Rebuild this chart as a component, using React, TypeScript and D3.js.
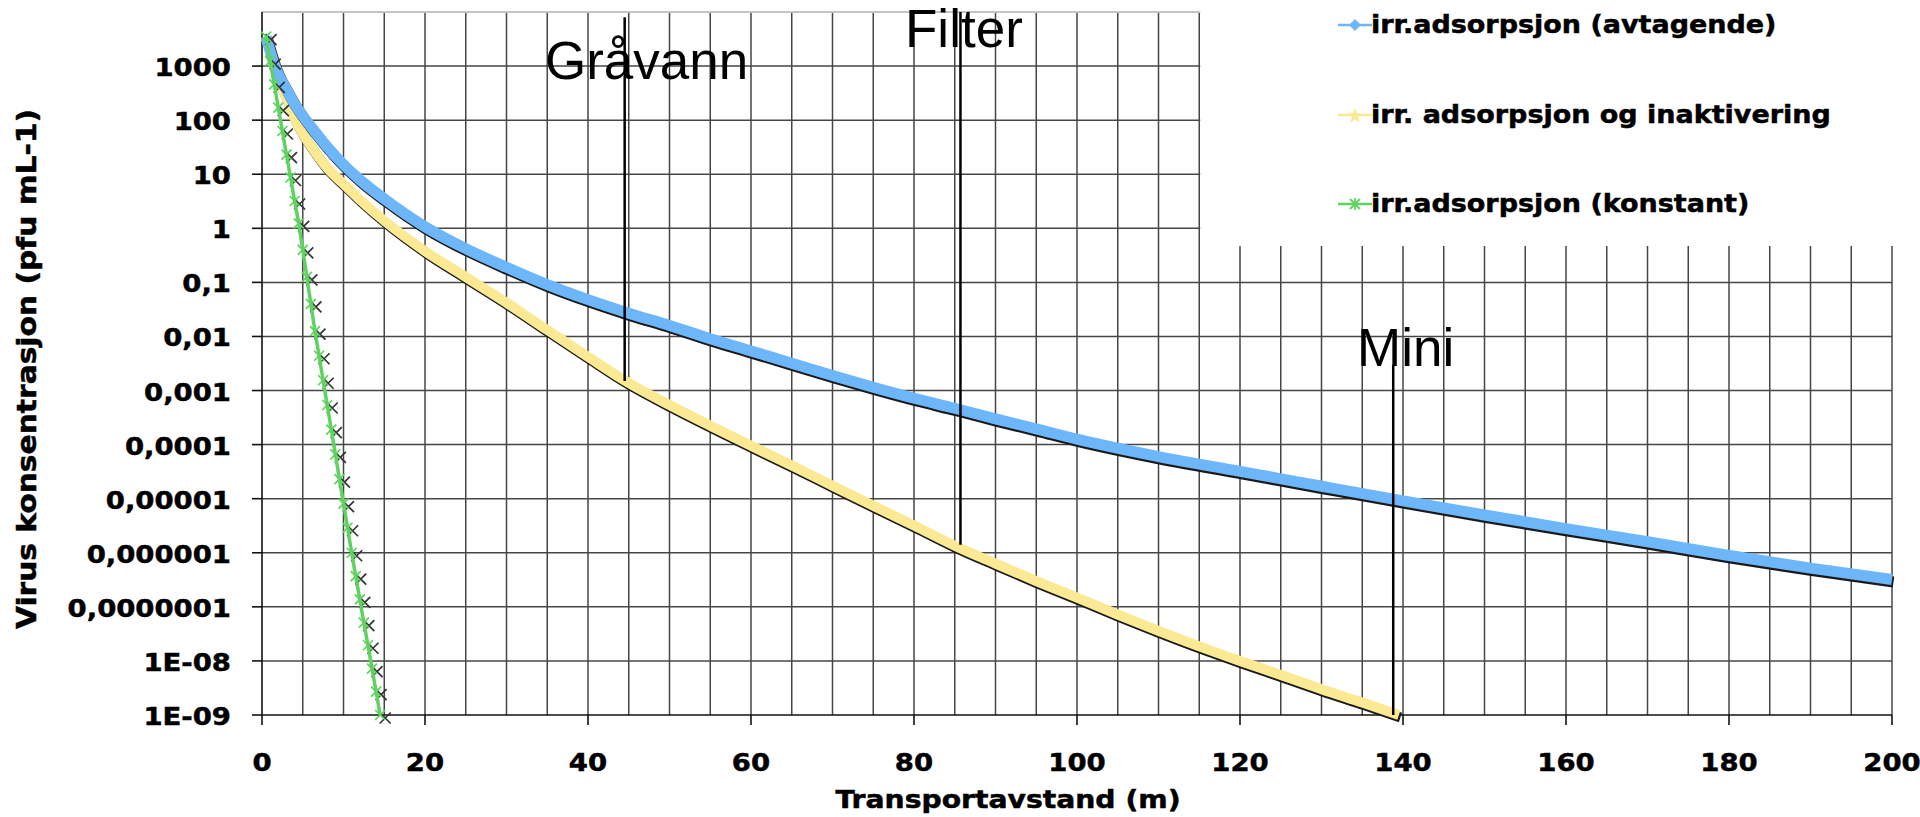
import React from "react";
import * as d3 from "d3";

const width = 1920,
  height = 817;

// irr.adsorpsjon (avtagende)
const distBlue = [0.5, 1, 1.5, 2, 3, 4, 5, 6, 8, 10, 12, 15, 20, 25, 30, 35, 40, 45, 50, 55, 60, 65, 70, 75, 80, 85, 90, 95, 100, 110, 120, 130, 140, 150, 160, 170, 180, 190, 200];
const concBlue = [3500, 1900, 1100, 710, 370, 200, 120, 76, 32, 15, 7.9, 3.5, 1.07, 0.42, 0.19, 0.091, 0.048, 0.027, 0.016, 0.0091, 0.0054, 0.0032, 0.0019, 0.00115, 0.00072, 0.00047, 0.0003, 0.000195, 0.000126, 6.0e-5, 3.2e-5, 1.7e-5, 9.1e-6, 5.0e-6, 2.8e-6, 1.6e-6, 8.9e-7, 5.2e-7, 3.2e-7];

// irr. adsorpsjon og inaktivering
const distYellow = [0.5, 1, 1.5, 2, 3, 4, 5, 6, 8, 10, 12, 15, 20, 25, 30, 35, 40, 45, 50, 55, 60, 65, 70, 75, 80, 85, 90, 95, 100, 105, 110, 115, 120, 125, 130, 135, 139.5];
const concYellow = [3400, 1700, 950, 600, 250, 107, 56, 33, 13, 6.6, 3.4, 1.38, 0.38, 0.126, 0.042, 0.0132, 0.0042, 0.00138, 0.00054, 0.000224, 9.5e-5, 4.1e-5, 1.74e-5, 7.4e-6, 3.2e-6, 1.35e-6, 6.3e-7, 3.0e-7, 1.48e-7, 7.2e-8, 3.6e-8, 1.86e-8, 1.0e-8, 5.5e-9, 3.0e-9, 1.7e-9, 1.0e-9];

// irr.adsorpsjon (konstant)
const distGreen = [0.5, 1, 1.5, 2, 2.5, 3, 3.5, 4, 4.5, 5, 5.5, 6, 6.5, 7, 7.5, 8, 8.5, 9, 9.5, 10, 10.5, 11, 11.5, 12, 12.5, 13, 13.5, 14, 14.5];
const concGreen = [3500, 1230, 460, 170, 63, 23, 8.7, 3.2, 1.23, 0.4, 0.126, 0.04, 0.0126, 0.0044, 0.00155, 0.00054, 0.00019, 6.6e-5, 2.3e-5, 8.1e-6, 2.9e-6, 1.0e-6, 3.7e-7, 1.38e-7, 5.1e-8, 1.95e-8, 7.2e-9, 2.7e-9, 1.0e-9];

const xTicks = [0, 20, 40, 60, 80, 100, 120, 140, 160, 180, 200];
const xGrid = [5, 10, 15, 20, 25, 30, 35, 40, 45, 50, 55, 60, 65, 70, 75, 80, 85, 90, 95, 100, 105, 110, 115, 120, 125, 130, 135, 140, 145, 150, 155, 160, 165, 170, 175, 180, 185, 190, 195, 200];
const yTicks = [1e3, 1e2, 1e1, 1, 1e-1, 1e-2, 1e-3, 1e-4, 1e-5, 1e-6, 1e-7, 1e-8, 1e-9];
const yTickLabels = ["1000", "100", "10", "1", "0,1", "0,01", "0,001", "0,0001", "0,00001", "0,000001", "0,0000001", "1E-08", "1E-09"];

const legendLabels = ["irr.adsorpsjon (avtagende)", "irr. adsorpsjon og inaktivering", "irr.adsorpsjon (konstant)"];

// markeringslinjer: avstand, fra/til konsentrasjon
const markNames = ["Gråvann", "Filter", "Mini"];
const markDist = [44.5, 85.7, 138.8];
const markTop = [8000, 1e4, 3e-3];
const markBottom = [1.5e-3, 1.4e-6, 1e-9];

const BOLD = "DejaVu Sans, Verdana, sans-serif";

function Bold({ x, y, anchor = "start", size = 25, sx = 1.1, rotate = 0, children }: any) {
  return (
    <text
      transform={`translate(${x},${y}) rotate(${rotate}) scale(${sx},1)`}
      textAnchor={anchor}
      fontFamily={BOLD}
      fontWeight="bold"
      fontSize={size}
      fill="#000"
      stroke="#000"
      strokeWidth={0.5}
    >
      {children}
    </text>
  );
}

export default function App() {
  const x = d3.scaleLinear().domain([0, 200]).range([262, 1892]);
  const y = d3.scaleLog().domain([1e-9, 1e4]).range([715, 12]);

  const path = (xs: number[], ys: number[]) =>
    d3
      .line<number>()
      .x((_, i) => x(xs[i]))
      .y(d => y(d))
      .curve(d3.curveMonotoneX)(ys) as string;

  const blueD = path(distBlue, concBlue);
  const yellowD = path(distYellow, concYellow);
  const greenD = path(distGreen, concGreen);

  const legendY = [33, 123, 212];
  const cross = (cx: number, cy: number, r: number) =>
    `M${cx - r},${cy - r}L${cx + r},${cy + r}M${cx - r},${cy + r}L${cx + r},${cy - r}`;

  return (
    <svg width={width} height={height} style={{ position: "absolute", left: 0, top: 0, background: "#fff" }}>
      <rect width={width} height={height} fill="#fff" />

      {/* rutenett */}
      <g stroke="#333" strokeWidth={1.5} opacity={0.9}>
        {xGrid.map(v => (
          <line key={"vx" + v} x1={x(v)} x2={x(v)} y1={y(1e4)} y2={y(1e-9)} />
        ))}
        {yTicks.slice(0, -1).map(v => (
          <line key={"hy" + v} x1={x(0)} x2={x(200)} y1={y(v)} y2={y(v)} />
        ))}
      </g>
      <line x1={x(0)} x2={x(200)} y1={y(1e4)} y2={y(1e4)} stroke="#c4c4c4" strokeWidth={2} />

      {/* akser */}
      <g stroke="#111" strokeWidth={1.6}>
        <line x1={x(0)} x2={x(0)} y1={y(1e4)} y2={y(1e-9)} />
        <line x1={x(0)} x2={x(200)} y1={y(1e-9)} y2={y(1e-9)} />
        {yTicks.map(v => (
          <line key={"ty" + v} x1={x(0) - 10} x2={x(0)} y1={y(v)} y2={y(v)} />
        ))}
        {xTicks.map(v => (
          <line key={"tx" + v} x1={x(v)} x2={x(v)} y1={y(1e-9)} y2={y(1e-9) + 10} />
        ))}
      </g>

      {/* serier */}
      <path d={yellowD} fill="none" stroke="#1a1a1a" strokeWidth={10} transform="translate(1.5,2.5)" />
      <path d={yellowD} fill="none" stroke="#fbe993" strokeWidth={10} />
      <path d={blueD} fill="none" stroke="#1a1a1a" strokeWidth={11} transform="translate(1.5,2.5)" />
      <path d={blueD} fill="none" stroke="#6db6fa" strokeWidth={11} />

      <g stroke="#333" strokeWidth={1.7} fill="none">
        {distGreen.map((d, i) => (
          <path key={"gs" + i} d={cross(x(d) + 5, y(concGreen[i]) + 3, 5.5)} />
        ))}
      </g>
      <path d={greenD} fill="none" stroke="#5fd35f" strokeWidth={3.5} />
      <g stroke="#5fd35f" strokeWidth={1.7} fill="none">
        {distGreen.map((d, i) => (
          <path key={"g" + i} d={cross(x(d), y(concGreen[i]), 5)} />
        ))}
      </g>

      {/* markeringslinjer */}
      <g stroke="#000" strokeWidth={2.5}>
        {markDist.map((d, i) => (
          <line key={"m" + i} x1={x(d)} x2={x(d)} y1={y(markTop[i])} y2={y(markBottom[i])} />
        ))}
      </g>

      {/* tegnforklaring */}
      <rect x={x(115) + 1} y={0} width={width - x(115)} height={246} fill="#fff" />
      {legendLabels.map((t, i) => (
        <Bold key={"lg" + i} x={1371} y={legendY[i]} size={25} sx={1.08}>
          {t}
        </Bold>
      ))}
      <g strokeWidth={2.5}>
        <line x1={1338} x2={1372} y1={legendY[0] - 8} y2={legendY[0] - 8} stroke="#6db6fa" />
        <path d={`M1355,${legendY[0] - 14}l6,6l-6,6l-6,-6z`} fill="#6db6fa" stroke="none" />
        <line x1={1338} x2={1372} y1={legendY[1] - 8} y2={legendY[1] - 8} stroke="#fbe993" />
        <path d={`M1355,${legendY[1] - 15}l2,5l6,1l-5,3l2,6l-5,-4l-5,4l2,-6l-5,-3l6,-1z`} fill="#fbe993" stroke="none" />
        <line x1={1338} x2={1372} y1={legendY[2] - 8} y2={legendY[2] - 8} stroke="#5fd35f" />
        <path d={cross(1355, legendY[2] - 8, 5) + `M1355,${legendY[2] - 14}V${legendY[2] - 2}`} stroke="#5fd35f" strokeWidth={1.8} fill="none" />
      </g>

      {/* aksetekster */}
      {yTicks.map((v, i) => (
        <Bold key={"yl" + i} x={231} y={y(v) + 10} anchor="end">
          {yTickLabels[i]}
        </Bold>
      ))}
      {xTicks.map(v => (
        <Bold key={"xl" + v} x={x(v)} y={771} anchor="middle">
          {v}
        </Bold>
      ))}
      <Bold x={1008} y={808} anchor="middle" sx={1.13}>
        Transportavstand (m)
      </Bold>
      <Bold x={36} y={369} anchor="middle" rotate={-90} size={27}>
        Virus konsentrasjon (pfu mL-1)
      </Bold>

      {/* navn */}
      <g fontFamily="Liberation Sans, Arial, sans-serif" fontSize={53} fill="#000">
        <text x={545} y={79}>{markNames[0]}</text>
        <text x={905} y={47}>{markNames[1]}</text>
        <text x={1357} y={366}>{markNames[2]}</text>
      </g>
    </svg>
  );
}
